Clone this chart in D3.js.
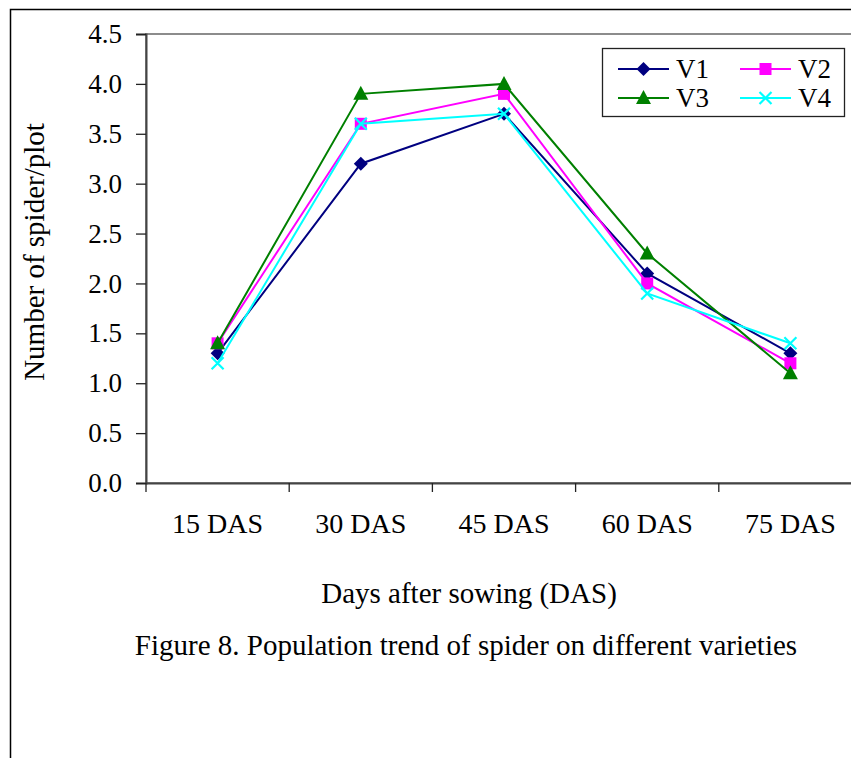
<!DOCTYPE html>
<html>
<head>
<meta charset="utf-8">
<script src="https://cdn.jsdelivr.net/npm/d3@7"></script>
<style>
  body { margin: 0; background: white; }
  text { font-family: "Liberation Serif", "Times New Roman", serif; fill: black; }
</style>
</head>
<body>
<div id="plot"></div>
<script>
// chart values
var categories = ['15 DAS', '30 DAS', '45 DAS', '60 DAS', '75 DAS'];
var yTicks = [0.0, 0.5, 1.0, 1.5, 2.0, 2.5, 3.0, 3.5, 4.0, 4.5];
var seriesNames = ['V1', 'V2', 'V3', 'V4'];
var v1 = [1.3, 3.2, 3.7, 2.1, 1.3];
var v2 = [1.4, 3.6, 3.9, 2.0, 1.2];
var v3 = [1.4, 3.9, 4.0, 2.3, 1.1];
var v4 = [1.2, 3.6, 3.7, 1.9, 1.4];

var series = [
  {name: seriesNames[0], values: v1, color: '#000080', symbol: 'diamond'},
  {name: seriesNames[1], values: v2, color: '#ff00ff', symbol: 'square'},
  {name: seriesNames[2], values: v3, color: '#008000', symbol: 'triangle'},
  {name: seriesNames[3], values: v4, color: '#00ffff', symbol: 'cross'}
];

var svg_width = 851;
var svg_height = 758;
var plot_left = 146, plot_top = 34, plot_height = 449, band = 143.2;

var svg = d3.select('#plot').append('svg')
  .attr('width', svg_width)
  .attr('height', svg_height);

// outer frame of the figure
svg.append('path')
  .attr('d', 'M10.5,758 L10.5,9.5 L851,9.5')
  .attr('fill', 'none')
  .attr('stroke', '#000')
  .attr('stroke-width', 1.5);

var xscale = d3.scaleBand()
  .domain(categories)
  .range([plot_left, plot_left + band * categories.length]);

var yscale = d3.scaleLinear()
  .domain([0, 4.5])
  .range([plot_top + plot_height, plot_top]);

// plot area border (top and right run off the page)
svg.append('rect')
  .attr('x', plot_left).attr('y', plot_top)
  .attr('width', band * categories.length).attr('height', plot_height)
  .attr('fill', 'none')
  .attr('stroke', '#8c8c8c')
  .attr('stroke-width', 2);

// y axis
var yaxis = d3.axisLeft(yscale)
  .tickValues(yTicks)
  .tickFormat(d3.format('.1f'))
  .tickSize(10)
  .tickPadding(14);

var gy = svg.append('g')
  .attr('transform', 'translate(' + plot_left + ',0)')
  .call(yaxis);
gy.select('.domain').attr('stroke', '#444').attr('stroke-width', 2);
gy.selectAll('.tick line').attr('stroke', '#222').attr('stroke-width', 1.3);
gy.selectAll('text')
  .style('font-size', '27px')
  .style('font-family', '"Liberation Serif", serif')
  .attr('fill', '#000');

// x axis with ticks between categories
var xaxis = d3.axisBottom(xscale).tickSize(0).tickPadding(30);
var gx = svg.append('g')
  .attr('transform', 'translate(0,' + (plot_top + plot_height) + ')')
  .call(xaxis);
gx.select('.domain').attr('stroke', '#444').attr('stroke-width', 2);
gx.selectAll('text')
  .style('font-size', '28px')
  .style('font-family', '"Liberation Serif", serif')
  .attr('fill', '#000');

gx.selectAll('.sep')
  .data(categories)
  .enter().append('line')
  .attr('x1', d => xscale(d)).attr('x2', d => xscale(d))
  .attr('y1', 0).attr('y2', 9)
  .attr('stroke', '#222').attr('stroke-width', 1.3);

// axis titles
svg.append('text')
  .attr('transform', 'translate(44,252) rotate(-90)')
  .attr('text-anchor', 'middle')
  .style('font-size', '29px')
  .text('Number of spider/plot');

svg.append('text')
  .attr('x', 469).attr('y', 603)
  .attr('text-anchor', 'middle')
  .style('font-size', '29px')
  .text('Days after sowing (DAS)');

svg.append('text')
  .attr('x', 466).attr('y', 655)
  .attr('text-anchor', 'middle')
  .style('font-size', '29px')
  .text('Figure 8. Population trend of spider on different varieties');

function cx(i) { return xscale(categories[i]) + xscale.bandwidth() / 2; }

function marker(g, s, x, y) {
  if (s.symbol === 'diamond') {
    g.append('path')
      .attr('d', 'M' + x + ',' + (y - 7) + ' L' + (x + 7) + ',' + y + ' L' + x + ',' + (y + 7) + ' L' + (x - 7) + ',' + y + 'Z')
      .attr('fill', s.color);
  } else if (s.symbol === 'square') {
    g.append('rect')
      .attr('x', x - 6).attr('y', y - 6).attr('width', 12).attr('height', 12)
      .attr('fill', s.color);
  } else if (s.symbol === 'triangle') {
    g.append('path')
      .attr('d', 'M' + x + ',' + (y - 8) + ' L' + (x + 7.5) + ',' + (y + 6) + ' L' + (x - 7.5) + ',' + (y + 6) + 'Z')
      .attr('fill', s.color);
  } else {
    g.append('path')
      .attr('d', 'M' + (x - 6) + ',' + (y - 6) + ' L' + (x + 6) + ',' + (y + 6) + ' M' + (x + 6) + ',' + (y - 6) + ' L' + (x - 6) + ',' + (y + 6))
      .attr('stroke', s.color).attr('stroke-width', 2.2).attr('fill', 'none');
  }
}

var line = d3.line()
  .x((d, i) => cx(i))
  .y(d => yscale(d));

series.forEach(function(s) {
  var g = svg.append('g');
  g.append('path')
    .datum(s.values)
    .attr('d', line)
    .attr('fill', 'none')
    .attr('stroke', s.color)
    .attr('stroke-width', 2);
  s.values.forEach(function(v, i) { marker(g, s, cx(i), yscale(v)); });
});

// legend
var legend = svg.append('g');
legend.append('rect')
  .attr('x', 602.5).attr('y', 48.5).attr('width', 242).attr('height', 68)
  .attr('fill', 'white').attr('stroke', '#222').attr('stroke-width', 1.3);

series.forEach(function(s, i) {
  var lx = 618 + (i % 2) * 122;
  var ly = 69 + Math.floor(i / 2) * 29;
  legend.append('line')
    .attr('x1', lx).attr('x2', lx + 51).attr('y1', ly).attr('y2', ly)
    .attr('stroke', s.color).attr('stroke-width', 2);
  marker(legend, s, lx + 25.5, ly);
  legend.append('text')
    .attr('x', lx + 58).attr('y', ly + 9)
    .style('font-size', '27px')
    .text(s.name);
});
</script>
</body>
</html>
